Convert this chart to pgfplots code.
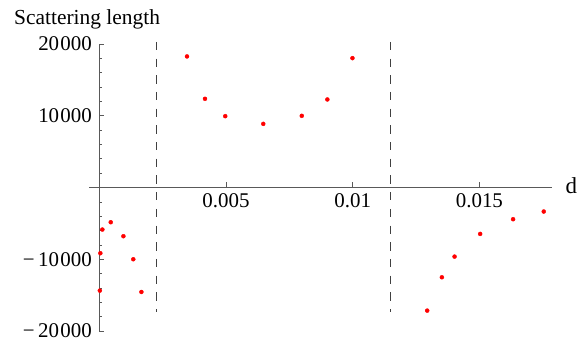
\documentclass[border=0pt]{standalone}
\usepackage{fontspec}
\setmainfont{Liberation Serif}
\usepackage{pgfplots}
\pgfplotsset{compat=1.18}
\begin{document}
\begin{tikzpicture}
\useasboundingbox (0,0) rectangle (586bp,340bp);
\begin{axis}[
  at={(89.2bp,9bp)}, anchor=south west,
  scale only axis, width=462.9bp, height=287bp,
  xmin=-0.0004, xmax=0.01787, ymin=-20000, ymax=20000,
  scaled ticks=false,
  axis lines=middle, axis line style={-, black!65, line width=0.7bp},
  clip=false,
  xtick={0.005,0.01,0.015}, xticklabels={0.005,0.01,0.015},
  ytick={-20000,-10000,10000,20000},
  yticklabels={−\,20\kern0.06em000,−\,10\kern0.06em000,10\kern0.06em000,20\kern0.06em000},
  minor ytick={-18000,-16000,-14000,-12000,-8000,-6000,-4000,-2000,2000,4000,6000,8000,12000,14000,16000,18000},
  tick align=inside,
  major tick length=5bp, minor tick length=3bp,
  tick style={black!65, line width=0.6bp},
  ticklabel style={font=\fontsize{21}{24}\selectfont, text=black, inner ysep=0bp},
  xticklabel style={yshift=-6bp},
  yticklabel style={xshift=-4bp},
]
\addplot[only marks, mark=*, mark size=2bp, color=red] coordinates {
 (0.00012,-5860) (0.00045,-4840) (0.00095,-6790) (0.00004,-9160)
 (0.00134,-10000) (0.00002,-14370) (0.00166,-14560)
 (0.00346,18270) (0.00417,12360) (0.00497,9940) (0.00647,8870)
 (0.00799,9990) (0.00900,12270) (0.00999,18030)
 (0.01294,-17160) (0.01352,-12510) (0.01402,-9630) (0.01503,-6470)
 (0.01633,-4420) (0.01754,-3350)
};
\addplot[black!75, line width=0.8bp, dash pattern=on 8.3bp off 8.4bp] coordinates {(0.00224,20300) (0.00224,-17350)};
\addplot[black!75, line width=0.8bp, dash pattern=on 8.3bp off 8.4bp] coordinates {(0.01148,20300) (0.01148,-17350)};
\end{axis}
\node[anchor=base west, inner sep=0pt, font=\fontsize{21.5}{24}\selectfont] at (14bp,315bp) {Scattering length};
\node[anchor=west, inner sep=0pt, font=\fontsize{23}{26}\selectfont] at (565.5bp,154bp) {d};
\end{tikzpicture}
\end{document}
